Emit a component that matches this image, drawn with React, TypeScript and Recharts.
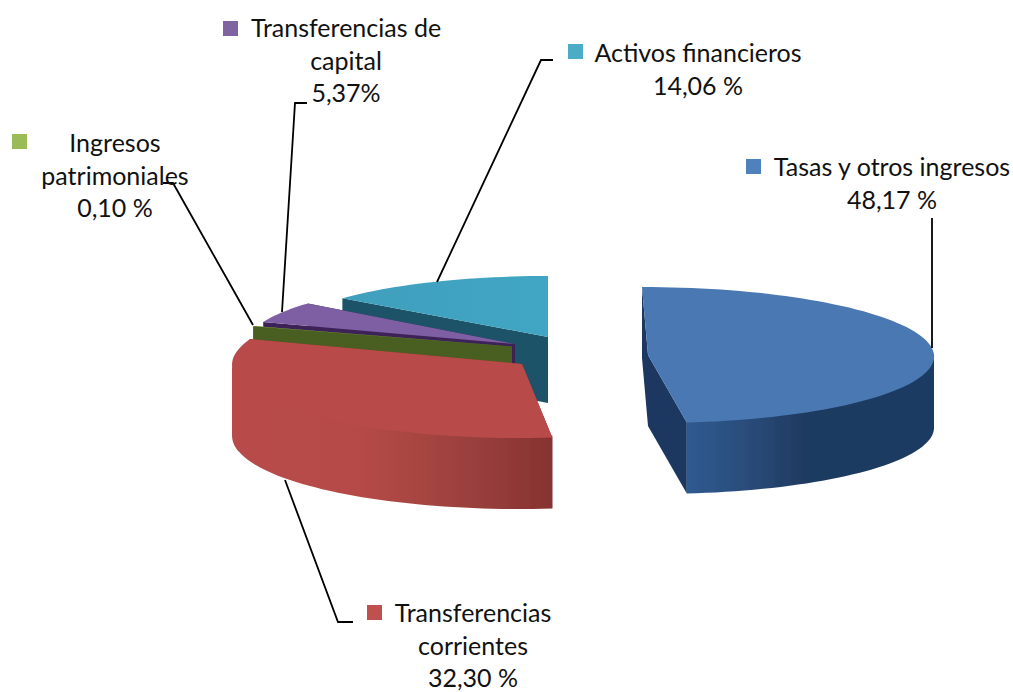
import { PieChart, Pie, Cell } from 'recharts';

// drawn back to front, so the list runs counter-clockwise from 12 o'clock
const categories = [
  'Activos financieros',
  'Transferencias de capital',
  'Ingresos patrimoniales',
  'Transferencias corrientes',
  'Tasas y otros ingresos',
];
const shares = [14.06, 5.37, 0.1, 32.3, 48.17];
const valueLabels = ['14,06 %', '5,37%', '0,10 %', '32,30 %', '48,17 %'];

const CX = 500;
const CY = 350;
const RADIUS = 290;
const FONT = 'Lato, sans-serif';

// ─── Slice geometry and colours ───────────────────────────────────────────────
const SLICE_STYLE: Record<string, any> = {
  'Activos financieros': { dx: 48, dy: -13, rx: 266, ry: 61, lean: 0, depth: 66, top: 'url(#tealTop)', wall: '#1b5367', side: '#1b5367', key: '#4bacc6' },
  'Transferencias de capital': { dx: 15, dy: -6, rx: 268, ry: 64, lean: 0, depth: 40, top: '#7f5fa4', wall: '#3d2458', side: '#3d2458', key: '#8064a2' },
  'Ingresos patrimoniales': { dx: 12, dy: -3.5, rx: 275, ry: 60, lean: 0, depth: 40, top: '#9bbb59', wall: '#4a5f22', side: '#4a5f22', key: '#9bbb59' },
  'Transferencias corrientes': { dx: 22, dy: 14, rx: 290, ry: 74, lean: -3, depth: 71, top: '#b84c4a', wall: '#86332f', side: 'url(#redSide)', key: '#c0504d' },
  'Tasas y otros ingresos': { dx: 148, dy: 5, rx: 286, ry: 68, lean: 6, depth: 71, top: '#4878b2', wall: '#1c3860', side: 'url(#blueSide)', key: '#4f81bd' },
};

const LABEL_STYLE: Record<string, any> = {
  'Activos financieros': {
    lines: ['Activos financieros'],
    cx: 698, base: 62, key: [568, 44],
    leader: '553,60 541,60 437,282',
  },
  'Transferencias de capital': {
    lines: ['Transferencias de', 'capital'],
    cx: 346, base: 37, key: [223, 21],
    leader: '307,103 295,103 282,312',
  },
  'Ingresos patrimoniales': {
    lines: ['Ingresos', 'patrimoniales'],
    cx: 115, base: 152, key: [12, 134],
    leader: '163,183 173,183 253,325',
  },
  'Transferencias corrientes': {
    lines: ['Transferencias', 'corrientes'],
    cx: 473, base: 622, key: [367, 605],
    leader: '353,622 338,622 285,480',
  },
  'Tasas y otros ingresos': {
    lines: ['Tasas y otros ingresos'],
    cx: 892, base: 176, key: [746, 159],
    leader: '932,218 932,348',
  },
};

// Flattened pie: recharts hands over the angles, we tilt them onto an ellipse
function sliceShape(props: any) {
  const s = SLICE_STYLE[props.name ?? props.payload?.name];
  const x0 = props.cx + s.dx;
  const y0 = props.cy + s.dy;
  const at = (deg: number) => {
    const a = (deg * Math.PI) / 180;
    return [x0 + s.rx * Math.cos(a) - s.lean * Math.sin(a), y0 - s.ry * Math.sin(a)];
  };
  const arc = (from: number, to: number) => {
    const out: number[][] = [];
    const n = Math.max(1, Math.ceil(Math.abs(to - from) / 2));
    for (let i = 0; i <= n; i++) out.push(at(from + ((to - from) * i) / n));
    return out;
  };
  const d = (pts: number[][]) => 'M' + pts.map(p => `${p[0].toFixed(1)},${p[1].toFixed(1)}`).join('L') + 'Z';
  const shift = (pts: number[][], by: number) => pts.map(p => [p[0], p[1] + by]);

  const a0 = props.startAngle;
  const a1 = props.endAngle;
  const apex = [x0, y0];
  const radialWall = (deg: number) => {
    const edge = [apex, at(deg)];
    return d([...edge, ...shift(edge, s.depth).reverse()]);
  };

  // only the part of the rim facing the viewer gets a wall
  const from = Math.max(a0, 180);
  const to = Math.min(a1, 360);
  const rim = to > from ? arc(from, to) : null;

  return (
    <g filter="url(#soft)">
      <path d={radialWall(a0)} fill={s.wall} />
      <path d={radialWall(a1)} fill={s.wall} />
      {/* wall starts a little under the top face so no seam shows */}
      {rim && <path d={d([...shift(rim, -2), ...shift(rim, s.depth).reverse()])} fill={s.side} />}
      <path d={d([apex, ...arc(a0, a1)])} fill={s.top} />
    </g>
  );
}

function sliceLabel(props: any) {
  const name = props.name ?? props.payload?.name;
  const l = LABEL_STYLE[name];
  const all = [...l.lines, props.payload?.valueLabel ?? valueLabels[categories.indexOf(name)]];
  return (
    <g>
      <polyline points={l.leader} fill="none" stroke="#000" strokeWidth={1.8} />
      <rect x={l.key[0]} y={l.key[1]} width={15} height={15} fill={SLICE_STYLE[name].key} />
      {all.map((t: string, i: number) => (
        <text key={i} x={l.cx} y={l.base + i * 32.5} textAnchor="middle" fontFamily={FONT} fontSize={25} fill="#111">
          {t}
        </text>
      ))}
    </g>
  );
}

const data = categories.map((name, i) => ({ name, value: shares[i], valueLabel: valueLabels[i] }));

export default function App() {
  return (
    <div style={{ position: 'absolute', left: 0, top: 0, width: 1013, height: 692, background: '#fff' }}>
      <PieChart width={1013} height={692} margin={{ top: 0, right: 0, bottom: 0, left: 0 }}>
        <defs>
          <filter id="soft" x="-5%" y="-5%" width="110%" height="110%">
            <feGaussianBlur stdDeviation="0.6" />
          </filter>
          <linearGradient id="blueSide" x1="0" y1="0" x2="1" y2="0">
            <stop offset="0" stopColor="#2f5a90" />
            <stop offset="0.23" stopColor="#2a4d7c" />
            <stop offset="0.48" stopColor="#1f3a60" />
            <stop offset="1" stopColor="#1d3a62" />
          </linearGradient>
          <linearGradient id="redSide" x1="0" y1="0" x2="1" y2="0">
            <stop offset="0" stopColor="#b84c4a" />
            <stop offset="0.4" stopColor="#b54a47" />
            <stop offset="0.72" stopColor="#9c413e" />
            <stop offset="1" stopColor="#863330" />
          </linearGradient>
          <linearGradient id="tealTop" x1="0" y1="0" x2="1" y2="0">
            <stop offset="0" stopColor="#3f9fbd" />
            <stop offset="1" stopColor="#41a6c4" />
          </linearGradient>
        </defs>
        <Pie
          data={data}
          dataKey="value"
          nameKey="name"
          cx={CX}
          cy={CY}
          innerRadius={0}
          outerRadius={RADIUS}
          startAngle={90}
          endAngle={450}
          stroke="none"
          shape={sliceShape}
          label={sliceLabel}
          labelLine={false}
          isAnimationActive={false}
        >
          {data.map((d, i) => (
            <Cell key={i} fill={SLICE_STYLE[d.name].key} />
          ))}
        </Pie>
      </PieChart>
    </div>
  );
}
